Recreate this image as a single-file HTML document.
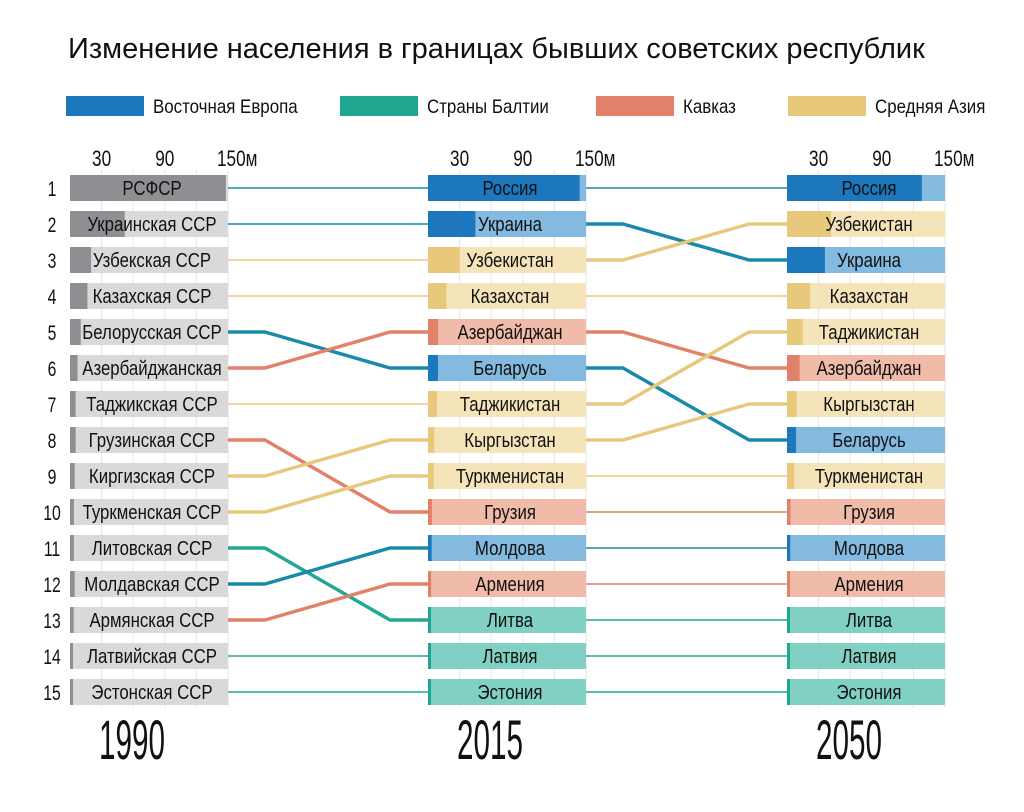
<!DOCTYPE html>
<html><head><meta charset="utf-8">
<style>
body{margin:0;background:#fff;width:1024px;height:807px;overflow:hidden;font-family:"Liberation Sans Narrow","Liberation Sans",sans-serif;}
svg text{font-family:"Liberation Sans Narrow","Liberation Sans",sans-serif;}
</style></head>
<body>
<svg id="chart" width="1024" height="807" viewBox="0 0 1024 807" xmlns="http://www.w3.org/2000/svg">
<text x="68" y="58" font-size="29" fill="#111" transform="translate(68 58) scale(1.0 1) translate(-68 -58)">Изменение населения в границах бывших советских республик</text>
<g id="legend"></g>
<g id="grid"></g>
<g id="links"></g>
<g id="bars"></g>
</svg>
<script>
const regions=["ee","baltic","cauc","asia"];
const legendLabels=["Восточная Европа","Страны Балтии","Кавказ","Средняя Азия"];
const years=["1990","2015","2050"];
const ticks=[30,90,150];
const names1990=["РСФСР","Украинская ССР","Узбекская ССР","Казахская ССР","Белорусская ССР","Азербайджанская","Таджикская ССР","Грузинская ССР","Киргизская ССР","Туркменская ССР","Литовская ССР","Молдавская ССР","Армянская ССР","Латвийская ССР","Эстонская ССР"];
const keys1990=["ru","ua","uz","kz","by","az","tj","ge","kg","tm","lt","md","am","lv","ee"];
const vals1990=[148,52,20,16.5,10.2,7.2,5.3,5.4,4.4,3.7,3.7,4.4,3.5,2.7,1.6];
const names2015=["Россия","Украина","Узбекистан","Казахстан","Азербайджан","Беларусь","Таджикистан","Кыргызстан","Туркменистан","Грузия","Молдова","Армения","Литва","Латвия","Эстония"];
const keys2015=["ru","ua","uz","kz","az","by","tj","kg","tm","ge","md","am","lt","lv","ee"];
const vals2015=[144,45,30,17.5,9.6,9.5,8.5,6,5.4,3.7,3.5,3.0,2.9,2.0,1.3];
const names2050=["Россия","Узбекистан","Украина","Казахстан","Таджикистан","Азербайджан","Кыргызстан","Беларусь","Туркменистан","Грузия","Молдова","Армения","Литва","Латвия","Эстония"];
const keys2050=["ru","uz","ua","kz","tj","az","kg","by","tm","ge","md","am","lt","lv","ee"];
const vals2050=[128,42,36,22,15,12,9,8.5,7,3.3,3.0,2.9,2.4,1.6,1.1];
const regionOf={ru:"ee",ua:"ee",by:"ee",md:"ee",lt:"baltic",lv:"baltic",ee:"baltic",az:"cauc",ge:"cauc",am:"cauc",uz:"asia",kz:"asia",tj:"asia",kg:"asia",tm:"asia"};
const dark={ee:"#1c77bd",baltic:"#1fa690",cauc:"#e2816a",asia:"#e8c97c",gray:"#8e8f93"};
const light={ee:"#84b9e0",baltic:"#80d1c3",cauc:"#f1bba9",asia:"#f5e4ba",gray:"#d9d9da"};
const lineCol={ee:"#1a8aaa",baltic:"#22a892",cauc:"#e2816a",asia:"#e8c97c"};
const NS="http://www.w3.org/2000/svg";
const colX=[70,428,787],W=158,MAXV=150,ROW0=188,ROWH=36,BH=26;
const xs=(c,v)=>colX[c]+v/MAXV*W;
const ys=i=>ROW0+i*ROWH;
function mk(tag,attrs,parent){const e=document.createElementNS(NS,tag);for(const k in attrs)e.setAttribute(k,attrs[k]);parent.appendChild(e);return e;}
function sq(el,x,y,s){el.setAttribute('transform',`translate(${x} ${y}) scale(${s} 1) translate(${-x} ${-y})`);}
// legend
const lg=document.getElementById('legend');
const lx=[66,340,596,788];
regions.forEach((r,i)=>{
  const sw=mk('rect',{x:lx[i],y:96,width:78,height:20,fill:dark[r]},lg);
  
  
  const t=mk('text',{x:lx[i]+87,y:113,'font-size':19,fill:'#111'},lg);
  t.textContent=legendLabels[i];
  sq(t,lx[i]+87,113,0.89);
  
  
});
// grid & ticks
const grid=document.getElementById('grid');
for(let c=0;c<3;c++){
  for(let v=30;v<=150;v+=30){
    const l=mk('line',{x1:xs(c,v),x2:xs(c,v),y1:170,y2:708,stroke:'#e6e6e6','stroke-width':1},grid);
    
    
  }
  ticks.forEach(v=>{
    const tx=v===150?xs(c,v)-11:xs(c,v);
    const t=mk('text',{x:tx,y:166,'font-size':22,'text-anchor':v===150?'start':'middle',fill:'#111'},grid);
    t.textContent=v===150?'150м':String(v);
    sq(t,tx,166,0.78);
    
    
  });
  const cx=colX[c]+62;
  const y=mk('text',{x:cx,y:759,'font-size':56,'text-anchor':'middle',fill:'#111'},grid);
  y.textContent=years[c];
  sq(y,cx,759,0.53);
  
  
}
for(let i=0;i<15;i++){
  const t=mk('text',{x:52,y:ys(i)+8,'font-size':21,'text-anchor':'middle',fill:'#111'},grid);
  t.textContent=String(i+1);
  sq(t,52,ys(i)+8,0.75);
  
  
}
// links
const links=document.getElementById('links');
function link(keysA,keysB,c){
  keysA.forEach((k,i)=>{
    const j=keysB.indexOf(k);
    const x0=colX[c]+W,x3=colX[c+1],x1=x0+37,x2=x3-38;
    const moved=i!==j;
    const d=`M${x0},${ys(i)} L${x1},${ys(i)} L${x2},${ys(j)} L${x3},${ys(j)}`;
    const p=mk('path',{d:d,fill:'none',stroke:lineCol[regionOf[k]],'stroke-width':moved?3.5:1.5,'stroke-linejoin':'round'},links);
    
    
  });
}
link(keys1990,keys2015,0);
link(keys2015,keys2050,1);
// bars
const bars=document.getElementById('bars');
function column(c,names,keys,vals,gray){
  keys.forEach((k,i)=>{
    const r=gray?'gray':regionOf[k];
    const bg=mk('rect',{x:colX[c],y:ys(i)-BH/2,width:W,height:BH,fill:light[r]},bars);
    
    
    const b=mk('rect',{x:colX[c],y:ys(i)-BH/2,width:Math.max(3,xs(c,vals[i])-colX[c]),height:BH,fill:dark[r]},bars);
    
    
    const tx=colX[c]+W/2+3;
    const t=mk('text',{x:tx,y:ys(i)+7,'font-size':20,'text-anchor':'middle',fill:'#111'},bars);
    t.textContent=names[i];
    sq(t,tx,ys(i)+7,0.84);
    
    
  });
}
column(0,names1990,keys1990,vals1990,true);
column(1,names2015,keys2015,vals2015,false);
column(2,names2050,keys2050,vals2050,false);
</script>
</body></html>
